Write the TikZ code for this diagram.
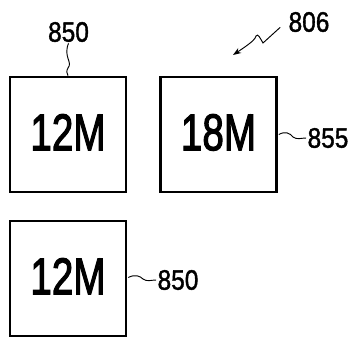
\documentclass[tikz,border=0pt]{standalone}
\usepackage{fontspec}
\usepackage{graphicx}
\setmainfont{Liberation Sans}
\newfontfamily\boxfont{Liberation Sans}[FakeBold=2.5]
\newfontfamily\reffont{Liberation Sans}[FakeBold=1.5]
\usetikzlibrary{arrows.meta}

\newcommand{\boxtext}[1]{\scalebox{0.75}[1]{#1}}
\newcommand{\reftext}[1]{\scalebox{0.87}[1]{#1}}

\tikzset{
  blockbox/.style={draw, line width=2.2pt, minimum width=116*0.3mm, minimum height=115*0.3mm,
    inner sep=0pt, text depth=4pt, font=\boxfont\fontsize{44}{44}\selectfont},
  refnum/.style={inner sep=1pt, font=\reffont\fontsize{24}{24}\selectfont},
  lead/.style={line width=0.8pt}
}

\begin{document}
\begin{tikzpicture}[x=0.3mm, y=-0.3mm]
\useasboundingbox (0,0) rectangle (354,338);

\node[blockbox] (blockA) at (68,134.5){\boxtext{12M}};
\node[blockbox] (blockB) at (218.5,134.5){\boxtext{18M}};
\node[blockbox] (blockC) at (68,278.5){\boxtext{12M}};

\node[refnum] (refA) at (68.5,32){\reftext{850}};
\node[refnum] (refB) at (328,138){\reftext{855}};
\node[refnum] (refC) at (178,280){\reftext{850}};
\node[refnum] (refFig) at (309,22){\reftext{806}};
\coordinate (tipFig) at (233,55);

% lead lines
\draw[lead] (refA.south) .. controls (63,57) and (73,62) .. (68,68) .. controls (66,71) and (67,74) .. (blockA.north);
\draw[lead] (blockB.east) ++(1,0) .. controls (285,131) and (290,133) .. (293,137) .. controls (297,140) and (301,138) .. (refB.west);
\draw[lead] (blockC.east) ++(1,-1) .. controls (135,274) and (140,276) .. (143,279) .. controls (147,282) and (151,280) .. (refC.west);
\draw[lead, -{Stealth[length=7pt, width=5pt]}] (refFig.south west) ++(-7,-6) -- (263,43) .. controls (260,38) and (258,33) .. (256,36) .. controls (255,39) and (254,41) .. (tipFig);
\end{tikzpicture}
\end{document}
